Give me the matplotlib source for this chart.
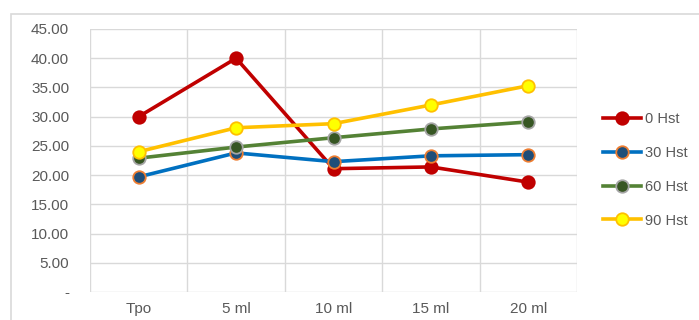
import matplotlib
matplotlib.use('Agg')
import matplotlib.pyplot as plt
from matplotlib.patches import Rectangle
from matplotlib.lines import Line2D

categories = ['Tpo', '5 ml', '10 ml', '15 ml', '20 ml']
hst_0 = [30.0, 40.0, 21.1, 21.4, 18.8]
hst_30 = [19.7, 23.8, 22.3, 23.3, 23.5]
hst_60 = [22.9, 24.8, 26.4, 27.9, 29.1]
hst_90 = [24.0, 28.1, 28.8, 32.0, 35.3]
series_names = ['0 Hst', '30 Hst', '60 Hst', '90 Hst']
yticks = [0, 5, 10, 15, 20, 25, 30, 35, 40, 45]

# line colour, marker fill, marker edge
styles = [
    ('#C00000', '#C00000', '#C00000'),
    ('#0070C0', '#1F4E79', '#ED7D31'),
    ('#548235', '#375623', '#A5A5A5'),
    ('#FFC000', '#FFFF00', '#FFC000'),
]

plt.rcParams['font.family'] = ['Liberation Sans', 'DejaVu Sans']
txt = '#595959'

fig = plt.figure(figsize=(6.99, 3.2), dpi=100)
fig.patches.append(Rectangle((11 / 699, -0.1), 1.2, (320 - 14) / 320 + 0.1,
                             transform=fig.transFigure, fill=False,
                             edgecolor='#D9D9D9', linewidth=1.2))

ax = fig.add_axes([90 / 699, 28 / 320, 487 / 699, 263 / 320])
x = list(range(len(categories)))
handles = []
for vals, name, (lc, mf, me) in zip([hst_0, hst_30, hst_60, hst_90],
                                    series_names, styles):
    ax.plot(x, vals, color=lc, linewidth=2.6, marker='o', markersize=9,
            markerfacecolor=mf, markeredgecolor=me, markeredgewidth=1.3,
            zorder=3)
    handles.append(Line2D([], [], color=lc, linewidth=2.6, marker='o',
                          markersize=9, markerfacecolor=mf,
                          markeredgecolor=me, markeredgewidth=1.3))

ax.set_xlim(-0.5, len(categories) - 0.5)
ax.set_ylim(0, 45)
ax.set_yticks(yticks)
ax.set_yticklabels(['-'] + [f'{v:.2f}' for v in yticks[1:]])
ax.set_xticks(x)
ax.set_xticklabels(categories)
ax.set_xticks([i - 0.5 for i in range(len(categories) + 1)], minor=True)
ax.grid(axis='y', color='#D9D9D9', linewidth=1)
ax.grid(axis='x', which='minor', color='#D9D9D9', linewidth=1)
ax.set_axisbelow(True)
for s in ax.spines.values():
    s.set_visible(False)
ax.tick_params(which='both', length=0, labelsize=11, colors=txt)
ax.tick_params(axis='y', pad=15)
ax.tick_params(axis='x', pad=7)

fig.legend(handles, series_names, loc='center left',
           bbox_to_anchor=(603 / 699, (320 - 170) / 320), frameon=False,
           fontsize=10.5, labelcolor=txt, handlelength=2.6, borderpad=0,
           borderaxespad=0, labelspacing=1.35, handletextpad=0.25)

fig.savefig('out.png', dpi=100)
